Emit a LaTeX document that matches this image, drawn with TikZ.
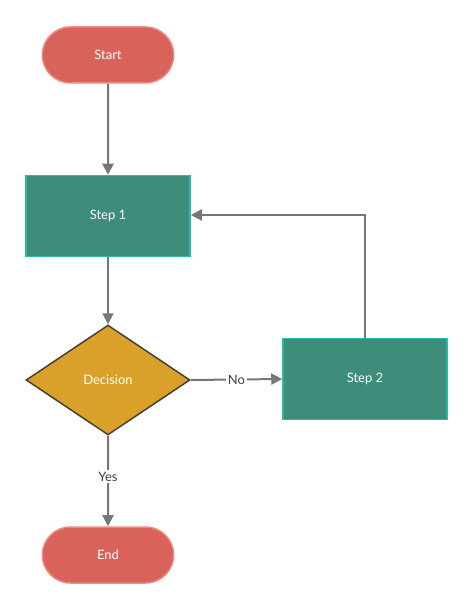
\documentclass[tikz,border=0pt]{standalone}
\usepackage{fontspec}
\setmainfont{Lato}
\usetikzlibrary{shapes.geometric,shapes.misc,arrows.meta}
\definecolor{redf}{HTML}{D9625B}
\definecolor{redb}{HTML}{EE8A84}
\definecolor{tealf}{HTML}{3E8C7A}
\definecolor{tealb}{HTML}{2DB8AC}
\definecolor{goldf}{HTML}{D9A02A}
\definecolor{goldb}{HTML}{4A4030}
\definecolor{con}{HTML}{777777}
\begin{document}
\begin{tikzpicture}[x=1pt,y=-1pt,
  term/.style={rounded rectangle,fill=redf,draw=redb,line width=1.5pt,minimum width=138pt,minimum height=56pt,text=white,font=\fontsize{13}{15}\selectfont},
  procbox/.style={rectangle,fill=tealf,draw=tealb,line width=1.5pt,minimum width=164pt,minimum height=81pt,text=white,font=\fontsize{13}{15}\selectfont},
  dec/.style={diamond,fill=goldf,draw=goldb,line width=1.5pt,minimum width=164pt,minimum height=110pt,inner sep=0pt},
  conn/.style={draw=con,line width=2pt,-{Triangle[length=11pt,width=11pt]}},
  lbl/.style={fill=white,text=black!75,font=\fontsize{13}{15}\selectfont,inner sep=2pt}]
\useasboundingbox (0,0) rectangle (474,609);
\node[term] (start) at (108,55) {Start};
\node[procbox] (s1) at (108,216) {Step 1};
\node[dec] (d) at (108,380) {};
\node[text=white,font=\fontsize{13}{15}\selectfont] (dl) at (108,380) {Decision};
\node[procbox] (s2) at (365,379) {Step 2};
\node[term] (end) at (108,555) {End};
\coordinate (c1) at (365,215);
\draw[conn] (start) -- (s1);
\draw[conn] (s1) -- (d.north);
\draw[conn] (d.east) -- node[lbl]{No} (s2.west);
\draw[conn] (s2.north) -- (c1) -- (s1.east |- c1);
\draw[conn] (d.south) -- node[lbl,pos=0.45]{Yes} (end);
\end{tikzpicture}
\end{document}
